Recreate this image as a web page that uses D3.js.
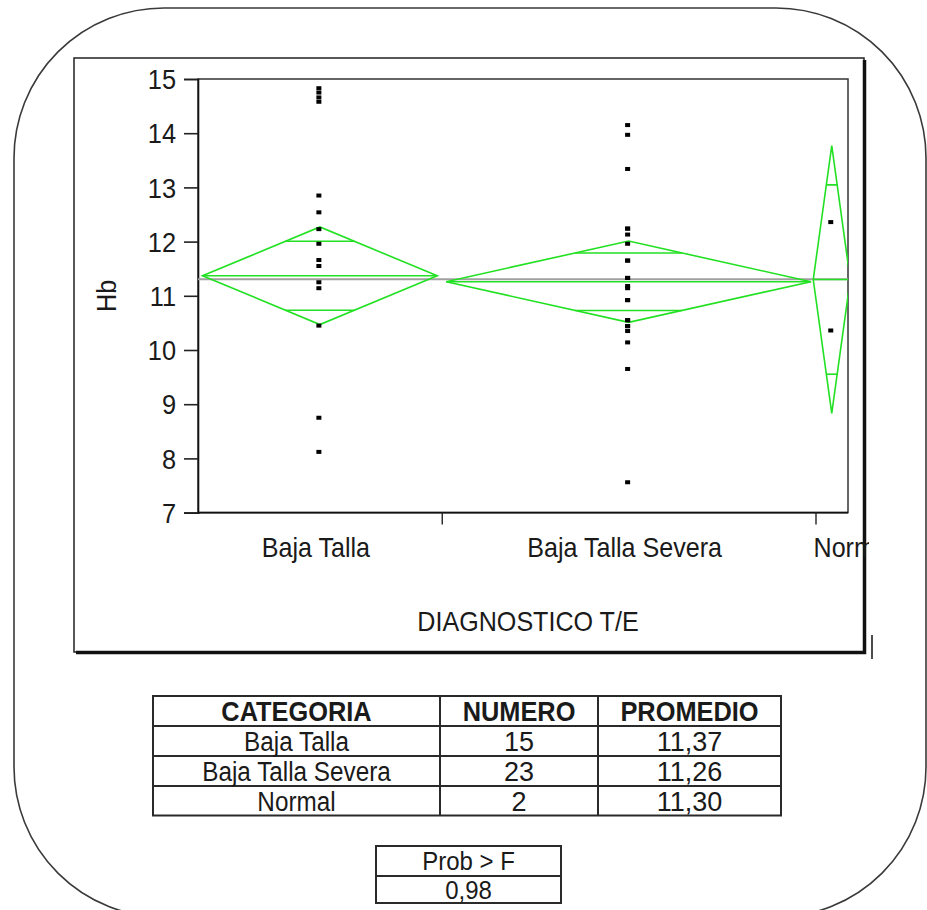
<!DOCTYPE html>
<html>
<head>
<meta charset="utf-8">
<script src="https://cdn.jsdelivr.net/npm/d3@7"></script>
<style>
  html, body { margin: 0; padding: 0; background: #fff; }
  svg { display: block; }
  text { font-family: "Liberation Sans", Arial, sans-serif; fill: #1a1a1a; }
</style>
</head>
<body>
<svg id="chart" width="927" height="910"></svg>
<script>
// Hb by height-for-age diagnosis (one-way ANOVA, means diamonds)
const categories = ["Baja Talla", "Baja Talla Severa", "Normal"];
const counts = [15, 23, 2];
const means = [11.37, 11.26, 11.30];
// half-width of the 95% confidence interval of each group mean
const ciHalf = [0.90, 0.75, 2.47];
const yTicks = [7, 8, 9, 10, 11, 12, 13, 14, 15];
const probF = "0,98";

const hbBajaTalla = [14.83, 14.75, 14.66, 14.58, 12.85, 12.54, 12.23, 11.96,
                     11.66, 11.55, 11.25, 11.14, 10.45, 8.75, 8.12];
const hbSevera = [14.15, 13.97, 13.34, 12.24, 12.24, 12.13, 11.96, 11.65, 11.65,
                  11.33, 11.33, 11.18, 11.14, 10.92, 10.92, 10.55, 10.55, 10.44,
                  10.44, 10.35, 10.14, 9.65, 7.56];
const hbNormal = [12.36, 10.36];
const groupPoints = [hbBajaTalla, hbSevera, hbNormal];

const svg = d3.select("#chart");
const green = "#22e022";

// text helper: horizontally condensed glyphs
function label(parent, x, y, str, opts = {}) {
  const g = parent.append("g")
    .attr("transform", `translate(${x},${y})${opts.rotate ? ` rotate(${opts.rotate})` : ""} scale(${opts.sx || 0.9},1)`);
  const t = g.append("text")
    .attr("text-anchor", opts.anchor || "middle")
    .attr("font-size", opts.size || 26)
    .attr("font-weight", opts.bold ? "bold" : "normal")
    .text(str);
  return t;
}

// rounded outer border
svg.append("rect")
  .attr("x", 14).attr("y", 8).attr("width", 912).attr("height", 909)
  .attr("rx", 150).attr("ry", 150)
  .attr("fill", "none").attr("stroke", "#3a3a3a").attr("stroke-width", 1.6);

// graph frame with drop shadow
svg.append("rect")
  .attr("x", 74).attr("y", 58).attr("width", 790).attr("height", 594)
  .attr("fill", "#fff").attr("stroke", "#222").attr("stroke-width", 1.5);
svg.append("path")
  .attr("d", "M76,652.5 H864.5 V60")
  .attr("fill", "none").attr("stroke", "#111").attr("stroke-width", 3.5);
svg.append("line")
  .attr("x1", 872).attr("x2", 872).attr("y1", 635).attr("y2", 659)
  .attr("stroke", "#111").attr("stroke-width", 1.5);

// plot area
const plot = { left: 198, right: 848, top: 79, bottom: 512.6 };
const y = d3.scaleLinear().domain([7, 15]).range([plot.bottom, plot.top]);
const total = d3.sum(counts);
const xN = d3.scaleLinear().domain([0, total]).range([plot.left, plot.right]);
const cum = d3.cumsum(counts);
const bands = categories.map((c, i) => {
  const x0 = xN(i === 0 ? 0 : cum[i - 1]);
  const x1 = xN(cum[i]);
  return { name: c, x0, x1, cx: (x0 + x1) / 2, half: (x1 - x0) / 2 };
});

svg.append("rect")
  .attr("x", plot.left).attr("y", plot.top)
  .attr("width", plot.right - plot.left).attr("height", plot.bottom - plot.top)
  .attr("fill", "none").attr("stroke", "#333").attr("stroke-width", 1.5);

// y axis
const yAxis = svg.append("g")
  .attr("transform", `translate(${plot.left},0)`)
  .call(d3.axisLeft(y).tickValues(yTicks).tickSize(14).tickFormat(d3.format("d")));
yAxis.select(".domain").attr("stroke", "#111").attr("stroke-width", 1.6);
yAxis.selectAll(".tick line").attr("stroke", "#222").attr("stroke-width", 1.6);
yAxis.selectAll(".tick text")
  .attr("x", 0).attr("dy", "0.36em")
  .attr("font-size", 27)
  .attr("font-family", "Liberation Sans, Arial, sans-serif")
  .attr("fill", "#1a1a1a")
  .attr("transform", "translate(-22,0) scale(0.94,1)");

// x axis: ticks at the group boundaries
const xAxis = svg.append("g")
  .attr("transform", `translate(0,${plot.bottom})`)
  .call(d3.axisBottom(xN).tickValues(cum.slice(0, -1)).tickSize(12).tickFormat(""));
xAxis.select(".domain").attr("stroke", "#111").attr("stroke-width", 1.6)
  .attr("d", `M${plot.left},0H${plot.right}`);
xAxis.selectAll(".tick line").attr("stroke", "#222").attr("stroke-width", 1.4);

// clip for data marks
svg.append("clipPath").attr("id", "plotClip")
  .append("rect").attr("x", plot.left).attr("y", plot.top)
  .attr("width", plot.right - plot.left).attr("height", plot.bottom - plot.top);
const marks = svg.append("g").attr("clip-path", "url(#plotClip)");

// grand mean line
const grandMean = d3.sum(counts.map((n, i) => n * means[i])) / total;
marks.append("line")
  .attr("x1", plot.left).attr("x2", plot.right)
  .attr("y1", y(grandMean)).attr("y2", y(grandMean))
  .attr("stroke", "#a0a0a0").attr("stroke-width", 2);

// means diamonds with overlap marks
bands.forEach((b, i) => {
  const hw = Math.max(b.half - 4.5, 18.5);
  const cx = b.cx;
  const m = means[i], ci = ciHalf[i];
  const g = marks.append("g").attr("fill", "none").attr("stroke", green).attr("stroke-width", 1.6);
  g.append("path").attr("d",
    `M${cx - hw},${y(m)} L${cx},${y(m + ci)} L${cx + hw},${y(m)} L${cx},${y(m - ci)} Z`);
  g.append("line").attr("x1", cx - hw).attr("x2", cx + hw)
    .attr("y1", y(m)).attr("y2", y(m));
  const ov = ci / Math.SQRT2;
  const ow = hw * (1 - 1 / Math.SQRT2);
  [m + ov, m - ov].forEach(v => {
    g.append("line").attr("x1", cx - ow).attr("x2", cx + ow)
      .attr("y1", y(v)).attr("y2", y(v));
  });
});

// individual observations
bands.forEach((b, i) => {
  marks.append("g").selectAll("rect").data(groupPoints[i]).join("rect")
    .attr("x", b.cx - 1 - 2.5).attr("y", d => y(d) - 2)
    .attr("width", 5).attr("height", 4)
    .attr("fill", "#000");
});

// category labels
svg.append("clipPath").attr("id", "labelClip")
  .append("rect").attr("x", 74).attr("y", 520).attr("width", 795).attr("height", 60);
const catG = svg.append("g").attr("clip-path", "url(#labelClip)");
bands.forEach((b, i) => {
  if (i < bands.length - 1) {
    label(catG, b.cx - 4, 557, b.name, { size: 27, sx: 0.93 });
  } else {
    label(catG, b.x0 - 2, 557, b.name, { size: 27, sx: 0.93, anchor: "start" });
  }
});

// axis titles
label(svg, (plot.left + plot.right) / 2 + 5, 631, "DIAGNOSTICO T/E", { size: 27, sx: 0.93 });
label(svg, 116, (plot.top + plot.bottom) / 2, "Hb", { size: 28, sx: 0.9, rotate: -90 });

// summary table
const tbl = { x: [153, 440, 598, 781], y: [696, 726, 756, 786, 815.5] };
const tg = svg.append("g");
tg.append("rect").attr("x", tbl.x[0]).attr("y", tbl.y[0])
  .attr("width", tbl.x[3] - tbl.x[0]).attr("height", tbl.y[4] - tbl.y[0])
  .attr("fill", "none").attr("stroke", "#2a2a2a").attr("stroke-width", 2);
tbl.x.slice(1, 3).forEach(x => tg.append("line").attr("x1", x).attr("x2", x)
  .attr("y1", tbl.y[0]).attr("y2", tbl.y[4]).attr("stroke", "#2a2a2a").attr("stroke-width", 2));
tbl.y.slice(1, 4).forEach(yy => tg.append("line").attr("x1", tbl.x[0]).attr("x2", tbl.x[3])
  .attr("y1", yy).attr("y2", yy).attr("stroke", "#2a2a2a").attr("stroke-width", 2));

const colC = [0, 1, 2].map(j => (tbl.x[j] + tbl.x[j + 1]) / 2);
const header = ["CATEGORIA", "NUMERO", "PROMEDIO"];
header.forEach((h, j) => label(tg, colC[j], tbl.y[0] + 25, h, { size: 27, sx: 0.94, bold: true }));
const fmt = v => d3.format(".2f")(v).replace(".", ",");
categories.forEach((c, i) => {
  const by = tbl.y[i + 1] + 25;
  label(tg, colC[0], by, c, { size: 27, sx: 0.9 });
  label(tg, colC[1], by, String(counts[i]), { size: 27, sx: 1.0 });
  label(tg, colC[2], by, fmt(means[i]), { size: 27, sx: 1.0 });
});

// Prob > F box
const pb = { x0: 376, x1: 561, y0: 846, y1: 876, y2: 903 };
const pg = svg.append("g");
pg.append("rect").attr("x", pb.x0).attr("y", pb.y0)
  .attr("width", pb.x1 - pb.x0).attr("height", pb.y2 - pb.y0)
  .attr("fill", "none").attr("stroke", "#2a2a2a").attr("stroke-width", 2);
pg.append("line").attr("x1", pb.x0).attr("x2", pb.x1).attr("y1", pb.y1).attr("y2", pb.y1)
  .attr("stroke", "#2a2a2a").attr("stroke-width", 2);
label(pg, (pb.x0 + pb.x1) / 2, pb.y0 + 24, "Prob > F", { size: 25, sx: 0.96 });
label(pg, (pb.x0 + pb.x1) / 2, pb.y1 + 23, probF, { size: 25, sx: 0.96 });
</script>
</body>
</html>
